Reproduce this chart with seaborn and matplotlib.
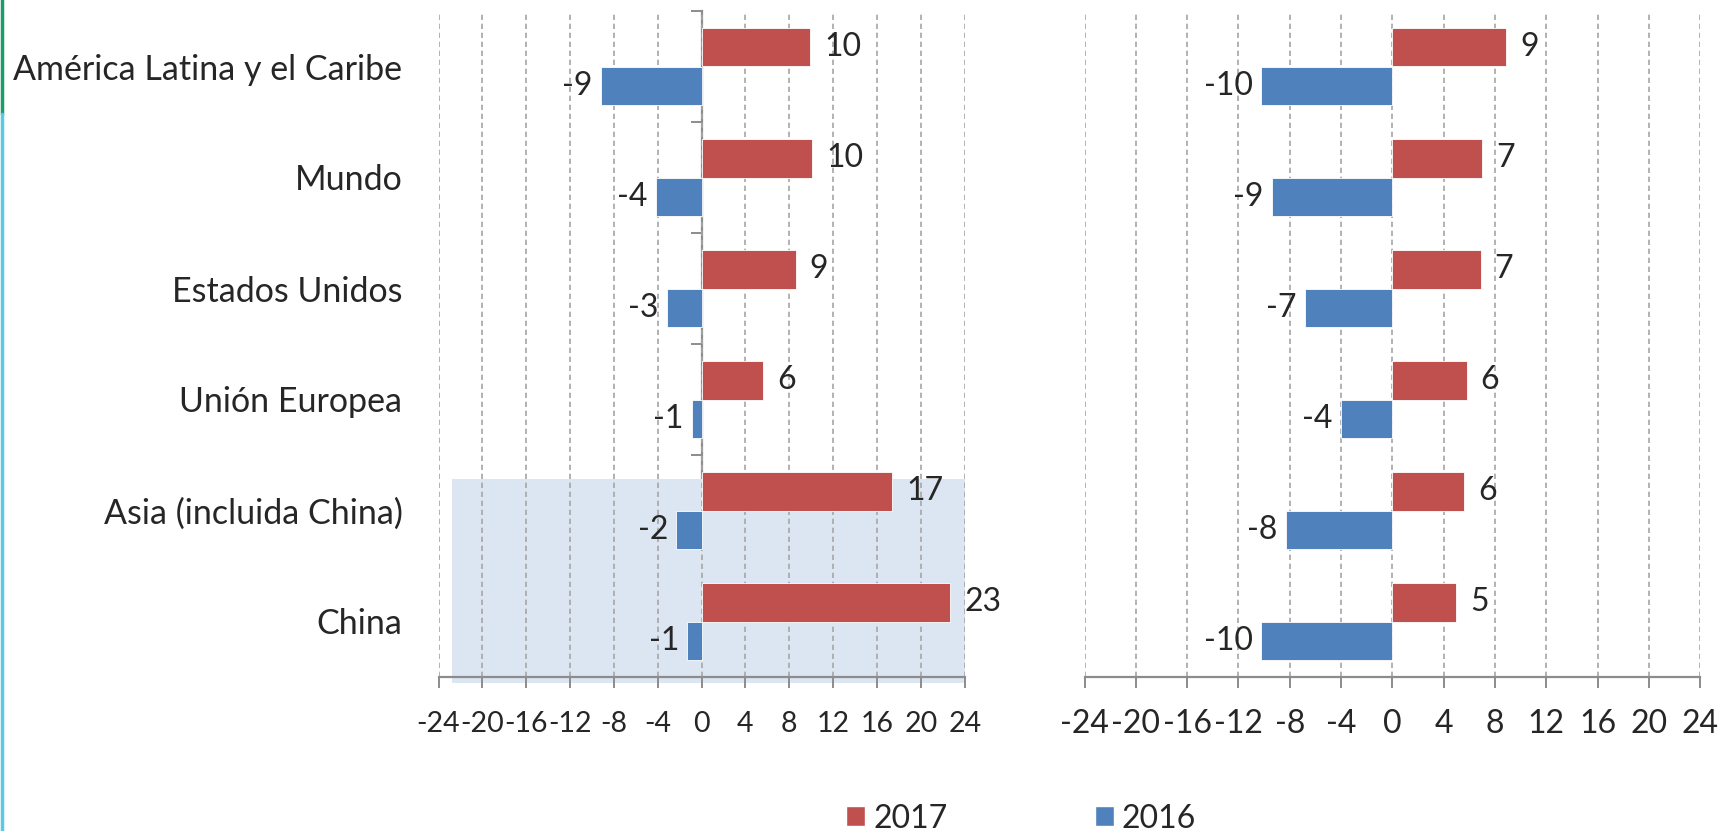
import matplotlib
matplotlib.use("Agg")
import matplotlib.pyplot as plt
import numpy as np
import pandas as pd
import seaborn as sns
from matplotlib.patches import Rectangle, Patch
from matplotlib.lines import Line2D

# ---------------- data ----------------
regiones = ["América Latina y el Caribe", "Mundo", "Estados Unidos",
            "Unión Europea", "Asia (incluida China)", "China"]
anios = ["2017", "2016"]
izq_2017 = [9.9, 10.1, 8.6, 5.6, 17.4, 22.7]
izq_2016 = [-9.2, -4.2, -3.2, -0.9, -2.3, -1.3]
der_2017 = [8.9, 7.0, 6.9, 5.8, 5.6, 5.0]
der_2016 = [-10.2, -9.4, -6.8, -4.0, -8.3, -10.2]
ticks_x = [-24, -20, -16, -12, -8, -4, 0, 4, 8, 12, 16, 20, 24]

ROJO = "#C0504D"
AZUL = "#4F81BD"
GRIS = "#8C8C8C"
GRID = "#A6A6A6"
SOMBRA = "#DCE6F2"

sns.set_style("white")
plt.rcParams["font.family"] = ["Lato", "DejaVu Sans"]
plt.rcParams["axes.unicode_minus"] = False
FS = 23        # numbers
FS_CAT = 24.5  # category names


def larga(v2017, v2016):
    return pd.DataFrame({
        "region": regiones * 2,
        "anio": [anios[0]] * len(regiones) + [anios[1]] * len(regiones),
        "valor": list(v2017) + list(v2016),
    })


fig = plt.figure(figsize=(17.19, 8.31), dpi=100)
ax1 = fig.add_axes([438.5 / 1719, 1 - 677 / 831, 526.2 / 1719, 666 / 831])
ax2 = fig.add_axes([1084.5 / 1719, 1 - 677 / 831, 615.6 / 1719, 666 / 831])

for ax, (a, b), fs_tick in zip([ax1, ax2],
                               [(izq_2017, izq_2016), (der_2017, der_2016)],
                               [20.5, FS]):
    sns.barplot(data=larga(a, b), x="valor", y="region", hue="anio",
                hue_order=anios, palette=[ROJO, AZUL], width=0.7,
                orient="h", ax=ax, legend=False, saturation=1,
                edgecolor="white", linewidth=0.6, zorder=3)
    ax.set_xlim(-24, 24)
    ax.set_xticks(ticks_x)
    ax.set_xticklabels([str(t) for t in ticks_x])
    ax.set_axisbelow(True)
    ax.xaxis.grid(True, linestyle=(0, (3.2, 2.2)), color=GRID, linewidth=1.2)
    ax.yaxis.grid(False)
    for s in ["top", "right", "left"]:
        ax.spines[s].set_visible(False)
    ax.spines["bottom"].set_color(GRIS)
    ax.spines["bottom"].set_linewidth(1.6)
    ax.tick_params(axis="x", length=8, width=1.4, color=GRIS, direction="out",
                   labelsize=fs_tick, pad=15 + (FS - fs_tick) * 0.5, bottom=True)
    ax.set_xlabel("")
    ax.set_ylabel("")
    ax.bar_label(ax.containers[0], fmt="%.0f", padding=10, fontsize=FS)
    ax.bar_label(ax.containers[1], fmt="%.0f", padding=6, fontsize=FS)

# left panel: category labels and y axis through zero
ax1.tick_params(axis="y", length=0, labelsize=FS_CAT, pad=26)
sec = ax1.secondary_yaxis(0.49999)
sec.set_yticks(np.arange(-0.5, len(regiones), 1.0))
sec.set_yticklabels([])
sec.tick_params(axis="y", length=8, width=1.4, color=GRIS, direction="out")
for s in sec.spines.values():
    s.set_color(GRIS)
    s.set_linewidth(1.6)

ax2.set_yticks([])
ax2.tick_params(axis="y", length=0, labelleft=False)

# highlighted area around Asia / China
ax1.add_patch(Rectangle((-22.8, 3.72), 46.8, 1.83, facecolor=SOMBRA,
                        edgecolor="none", zorder=0.2, clip_on=False))

# legend
handles = [Patch(facecolor=ROJO), Patch(facecolor=AZUL)]
fig.legend(handles, anios, loc="center", bbox_to_anchor=(0.594, 0.015),
           ncol=2, frameon=False, fontsize=FS, handlelength=0.6,
           handleheight=0.6, handletextpad=0.25, columnspacing=4.6)

# decorative left edge line
fig.add_artist(Line2D([0.001, 0.001], [1, 1 - 114 / 831], color="#1E9B6E",
                      linewidth=2.5, transform=fig.transFigure))
fig.add_artist(Line2D([0.001, 0.001], [1 - 114 / 831, 0], color="#5BC8E6",
                      linewidth=2.5, transform=fig.transFigure))

fig.savefig("out.png", dpi=100)
